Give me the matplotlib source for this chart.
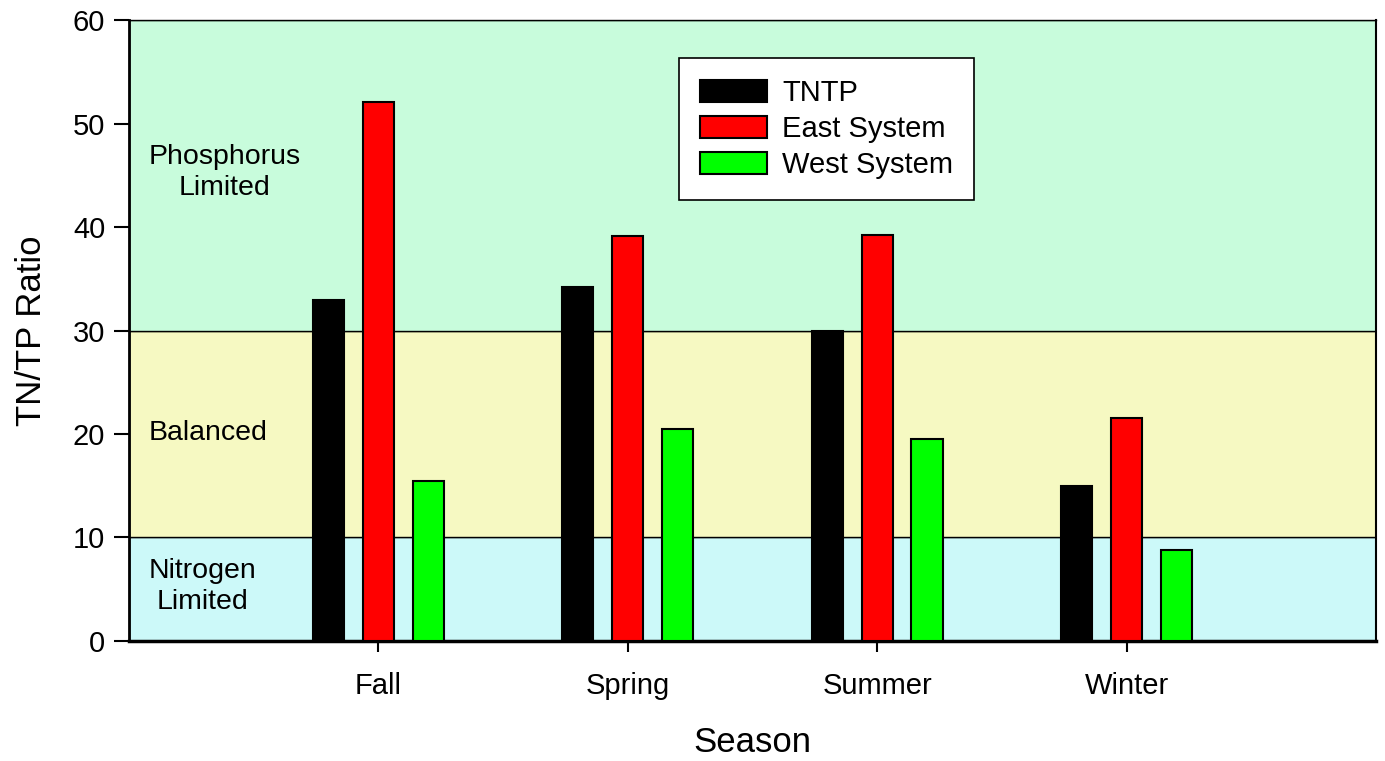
import matplotlib.pyplot as plt
import numpy as np

plt.rcParams['font.family'] = ['Liberation Sans', 'DejaVu Sans']

# Дані
seasons = ["Fall", "Spring", "Summer", "Winter"]
tntp = [32.9, 34.2, 30.0, 15.0]
east = [52.1, 39.1, 39.2, 21.5]
west = [15.5, 20.5, 19.5, 8.8]

series_names = ["TNTP", "East System", "West System"]
series_colors = ["#000000", "#ff0000", "#00ff00"]

# Зони: нижня/верхня межа, колір, підпис, y підпису
band_low = [0, 10, 30]
band_high = [10, 30, 60]
band_colors = ["#ccf9f9", "#f6f9c2", "#c8fcdc"]
band_labels = ["Nitrogen\nLimited", "Balanced", "Phosphorus\nLimited"]
band_label_y = [5.3, 20.1, 45.3]

fig = plt.figure(figsize=(13.85, 7.61), dpi=100)
ax = fig.add_axes([0.0931, 0.1577, 0.9004, 0.816])

for lo, hi, c in zip(band_low, band_high, band_colors):
    ax.axhspan(lo, hi, facecolor=c, edgecolor="black", linewidth=1, zorder=0)

for lab, y in zip(band_labels, band_label_y):
    ax.text(0.08, y, lab, ha="left", va="center", multialignment="center",
            fontsize=20.5, linespacing=1.25)

x = np.arange(1, len(seasons) + 1)
width = 0.125
offsets = [-0.2, 0.0, 0.2]
for vals, off, name, col in zip([tntp, east, west], offsets, series_names, series_colors):
    ax.bar(x + off, vals, width, color=col, edgecolor="black", linewidth=1.5,
           label=name, zorder=3)

ax.set_xlim(0, 5)
ax.set_ylim(0, 60)
ax.set_yticks(range(0, 61, 10))
ax.set_xticks(x)
ax.set_xticklabels(seasons)
ax.tick_params(axis="y", labelsize=21, length=11, width=1.5, pad=6)
ax.tick_params(axis="x", labelsize=21, length=8, width=1.5, pad=14)

ax.spines["left"].set_linewidth(2)
ax.spines["bottom"].set_linewidth(2.5)
ax.spines["top"].set_linewidth(1)
ax.spines["right"].set_linewidth(1.5)

ax.set_xlabel("Season", fontsize=25, labelpad=19)
ax.set_ylabel("TN/TP Ratio", fontsize=25, labelpad=18)

leg = ax.legend(loc="upper left", bbox_to_anchor=(0.441, 0.9385), fontsize=21,
                fancybox=False, edgecolor="black", framealpha=1,
                handlelength=2.3, handleheight=0.76, labelspacing=0.27,
                borderpad=0.72, handletextpad=0.52, borderaxespad=0)
leg.get_frame().set_linewidth(1.2)

fig.savefig("out.png", dpi=100)
